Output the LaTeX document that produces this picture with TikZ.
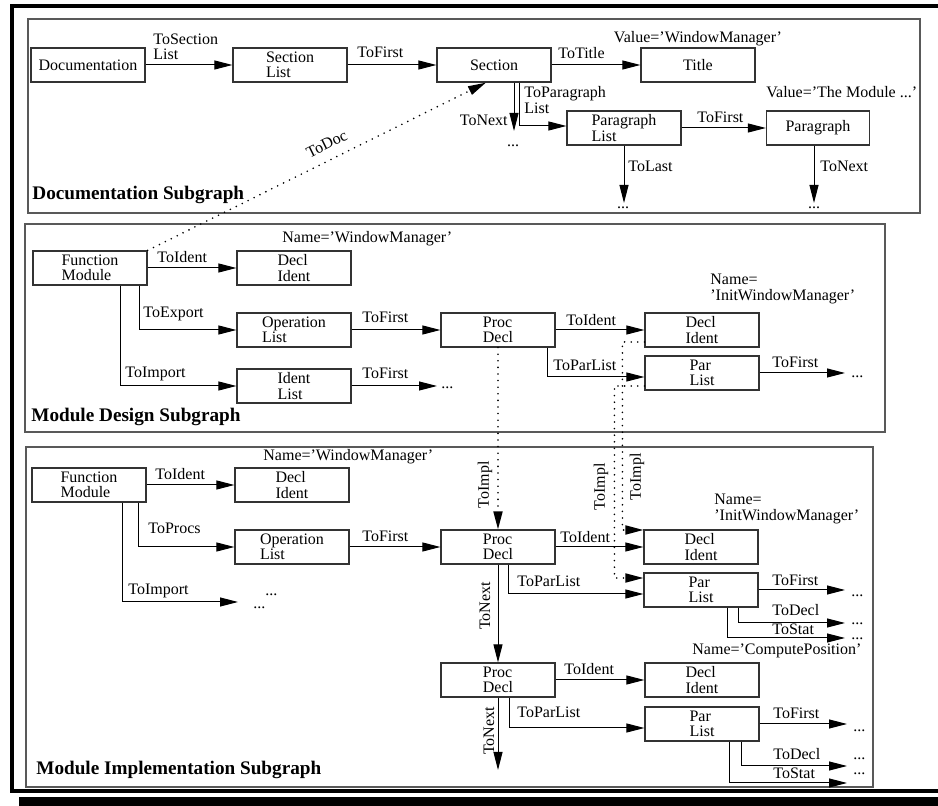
\documentclass[tikz,border=0pt]{standalone}
\usepackage{fontspec}
\setmainfont{Liberation Serif}
\usetikzlibrary{arrows.meta,calc,positioning}

\begin{document}
\begin{tikzpicture}[x=0.5pt,y=-0.5pt,
  every node/.style={font=\fontsize{8}{7.6}\selectfont},
  obj/.style={draw=black!80,line width=0.6pt,minimum width=57pt,minimum height=17pt,inner sep=0pt,align=left},
  tag/.style={inner sep=0pt,anchor=base west},
  vtag/.style={inner sep=0pt,rotate=90},
  edge/.style={-{Triangle[length=9pt,width=4.5pt]},line width=0.5pt},
  ref/.style={edge,line width=0.9pt,dash pattern=on 0pt off 3.3pt,line cap=round},
  frame/.style={draw=black!65,line width=0.8pt},
  title/.style={font=\fontsize{9.6}{11}\selectfont\bfseries,anchor=west,inner sep=0pt}]
\useasboundingbox (0,0) rectangle (938,806);
\draw[line width=2pt] (960,6.5) -- (12,6.5) -- (12,791) -- (960,791);
\fill (19,797) rectangle (960,815);

% documentation
\draw[frame] (28,19) rectangle (920,213);
\node[obj] (doc) at (88,65) {Documentation};
\node[obj] (seclist) at (290,65) {Section\\List};
\node[obj] (sec) at (494,65) {Section};
\node[obj] (title) at (698,65) {Title};
\node[obj] (parlist) at (624,128) {Paragraph\\List};
\node[obj,minimum width=51.5pt] (para) at (818,128) {Paragraph};
\coordinate (nextA) at (514,131);
\coordinate (lastA) at (624,203);
\coordinate (nextB) at (814,203);

\draw[edge] (doc) -- (seclist);
\draw[edge] (seclist) -- (sec);
\draw[edge] (sec) -- (title);
\draw[edge] (sec.south -| nextA) -- (nextA);
\draw[edge] ([xshift=12.5pt]sec.south) |- ([yshift=1pt]parlist.west);
\draw[edge] (parlist) -- (para);
\draw[edge] (parlist.south) -- (lastA);
\draw[edge] (para.south -| nextB) -- (nextB);

\node[tag,align=left,anchor=west] (tSecList) at (153,47) {ToSection\\List};
\node[tag] (tFirstA) at (357,58) {ToFirst};
\node[tag] (tTitle) at (558,59) {ToTitle};
\node[tag,align=left,anchor=west] (tParList) at (524,100) {ToParagraph\\List};
\node[tag,anchor=base east] (tNextA) at (508,126) {ToNext};
\node[tag,anchor=base] (dotsA) at (513,147) {...};
\node[tag] (tFirstB) at (697,123) {ToFirst};
\node[tag] (tLast) at (628,172) {ToLast};
\node[tag] (tNextB) at (820,172) {ToNext};
\node[tag,anchor=base] (dotsB) at (623,209) {...};
\node[tag,anchor=base] (dotsC) at (814,209) {...};
\node[tag,anchor=base] (vTitle) at (698,43) {Value='WindowManager'};
\node[tag] (vPara) at (766,98) {Value='The Module ...'};
\node[title] (docTitle) at (32,195) {Documentation Subgraph};

% module design
\draw[frame] (25,224) rectangle (885,432);
\node[obj] (fmA) at (90,268) {Function\\Module};
\node[obj] (declA) at (294,268) {Decl\\Ident};
\node[obj] (opA) at (294,330) {Operation\\List};
\node[obj] (identA) at (294,386) {Ident\\List};
\node[obj] (procA) at (498,330) {Proc\\Decl};
\node[obj] (declB) at (702,330) {Decl\\Ident};
\node[obj] (parA) at (702,373) {Par\\List};
\coordinate (firstC) at (437,386);
\coordinate (firstD) at (845,373);

\draw[edge] (fmA) -- (declA);
\draw[edge] ([xshift=24.5pt]fmA.south) |- (opA.west);
\draw[edge] ([xshift=15pt]fmA.south) |- (identA.west);
\draw[edge] (opA) -- (procA);
\draw[edge] (identA) -- (firstC);
\draw[edge] (procA) -- (declB);
\draw[edge] ([xshift=24.5pt]procA.south) |- ([yshift=-2pt]parA.west);
\draw[edge] (parA) -- (firstD);

\node[tag] (vDeclA) at (282,243) {Name='WindowManager'};
\node[tag] (tIdentA) at (157,263) {ToIdent};
\node[tag] (tExport) at (143,318) {ToExport};
\node[tag] (tImportA) at (125,378) {ToImport};
\node[tag] (tFirstC) at (362,323) {ToFirst};
\node[tag] (tFirstD) at (362,379) {ToFirst};
\node[tag] (dotsD) at (441,389) {...};
\node[tag] (tIdentB) at (566,326) {ToIdent};
\node[tag,align=left,anchor=west] (vDeclB) at (710,289) {Name=\\'InitWindowManager'};
\node[tag] (tParListA) at (553,371) {ToParList};
\node[tag] (tFirstE) at (772,368) {ToFirst};
\node[tag] (dotsE) at (851,378) {...};
\node[title] (mdTitle) at (31,417) {Module Design Subgraph};

% module implementation
\draw[frame] (26,447) rectangle (873,787);
\node[obj] (fmB) at (89,485) {Function\\Module};
\node[obj] (declC) at (292,485) {Decl\\Ident};
\node[obj] (opB) at (292,547) {Operation\\List};
\node[obj] (procB) at (498,547) {Proc\\Decl};
\node[obj] (declD) at (701,547) {Decl\\Ident};
\node[obj] (parB) at (701,590) {Par\\List};
\node[obj] (procC) at (498,680) {Proc\\Decl};
\node[obj] (declE) at (702,680) {Decl\\Ident};
\node[obj] (parC) at (702,724) {Par\\List};
\coordinate (importB) at (238,602);
\coordinate (firstF) at (845,590);
\coordinate (declF) at (845,623);
\coordinate (statF) at (845,638);
\coordinate (nextC) at (498,770);
\coordinate (firstG) at (847,724);
\coordinate (declG) at (847,766);
\coordinate (statG) at (847,783);

\draw[edge] (fmB) -- (declC);
\draw[edge] ([xshift=24.5pt]fmB.south) |- (opB.west);
\draw[edge] ([xshift=16.5pt]fmB.south) |- (importB);
\draw[edge] (opB) -- (procB);
\draw[edge] (procB) -- (declD);
\draw[edge] ([xshift=5pt]procB.south) |- ([yshift=-2pt]parB.west);
\draw[edge] (parB) -- (firstF);
\draw[edge] ([xshift=18.5pt]parB.south) |- (declF);
\draw[edge] ([xshift=13pt]parB.south) |- (statF);
\draw[edge] (procB) -- (procC);
\draw[edge] (procC) -- (declE);
\draw[edge] ([xshift=5.5pt]procC.south) |- ([yshift=-2pt]parC.west);
\draw[edge] (parC) -- (firstG);
\draw[edge] ([xshift=19.5pt]parC.south) |- (declG);
\draw[edge] ([xshift=13.5pt]parC.south) |- (statG);
\draw[edge] (procC) -- (nextC);

\node[tag] (vDeclC) at (263,461) {Name='WindowManager'};
\node[tag] (tIdentC) at (155,480) {ToIdent};
\node[tag] (tProcs) at (148,534) {ToProcs};
\node[tag] (tFirstH) at (362,542) {ToFirst};
\node[tag] (tImportB) at (128,595) {ToImport};
\node[tag] (dotsF) at (265,596) {...};
\node[tag] (dotsG) at (253,609) {...};
\node[tag] (tIdentD) at (560,543) {ToIdent};
\node[tag,align=left,anchor=west] (vDeclD) at (714,509) {Name=\\'InitWindowManager'};
\node[tag] (tParListB) at (517,587) {ToParList};
\node[tag] (tFirstI) at (772,586) {ToFirst};
\node[tag] (dotsH) at (851,597) {...};
\node[tag] (tDeclF) at (772,616) {ToDecl};
\node[tag] (dotsI) at (851,625) {...};
\node[tag] (tStatF) at (772,635) {ToStat};
\node[tag] (dotsJ) at (851,640) {...};
\node[tag] (vDeclE) at (692,655) {Name='ComputePosition'};
\node[tag] (tIdentE) at (564,675) {ToIdent};
\node[tag] (tParListC) at (517,718) {ToParList};
\node[tag] (tFirstJ) at (773,719) {ToFirst};
\node[tag] (dotsK) at (853,732) {...};
\node[tag] (tDeclG) at (773,760) {ToDecl};
\node[tag] (dotsL) at (853,760) {...};
\node[tag] (tStatG) at (773,779) {ToStat};
\node[tag] (dotsM) at (853,775) {...};
\node[vtag] (tNextC) at (485,606) {ToNext};
\node[vtag] (tNextD) at (489,731) {ToNext};
\node[title] (miTitle) at (36,770) {Module Implementation Subgraph};

% references between the subgraphs
\draw[ref] (fmA.north east) -- node[sloped,above=1.5pt,pos=0.55] (tDoc) {ToDoc} ([xshift=-4pt]sec.south);
\draw[ref] (procA) -- (procB);
\draw[ref] ([yshift=-6pt]declB.west) -- ++(-11pt,0) |- ([yshift=8.5pt]declD.west);
\draw[ref] ([yshift=-6.5pt]parA.west) -- ++(-15pt,0) |- ([yshift=6pt]parB.west);
\node[vtag] (tImplA) at (485,485) {ToImpl};
\node[vtag] (tImplB) at (601,487) {ToImpl};
\node[vtag] (tImplC) at (637,477) {ToImpl};
\end{tikzpicture}
\end{document}
